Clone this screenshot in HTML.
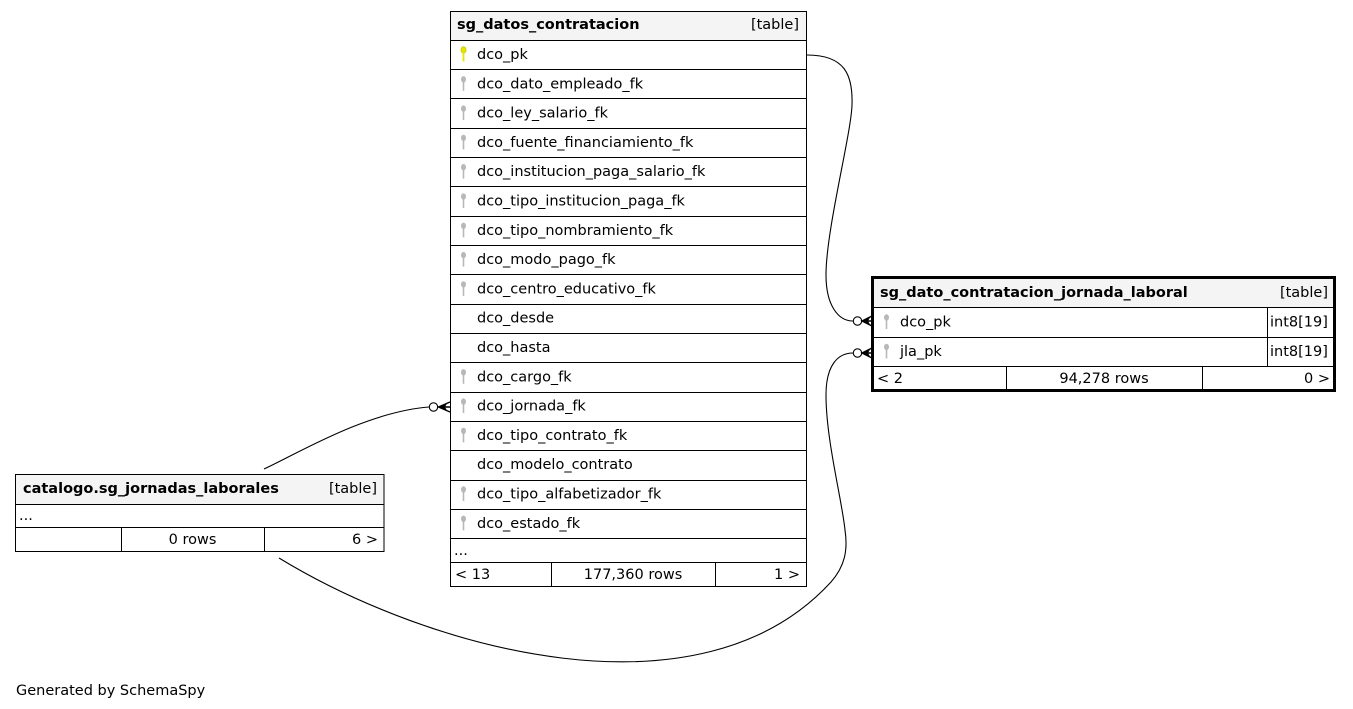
<!DOCTYPE html>
<html>
<head>
<meta charset="utf-8">
<style>
  html,body{margin:0;padding:0;background:#fff;}
  svg{display:block;}
  text{font-family:"DejaVu Sans","Liberation Sans",sans-serif;font-size:14.5px;fill:#000;}
  .b{font-weight:bold;}
</style>
</head>
<body>
<svg width="1353" height="709" viewBox="0 0 1353 709" xmlns="http://www.w3.org/2000/svg">
  <defs>
    <g id="kg">
      <ellipse cx="0" cy="0" rx="2.5" ry="3.2" fill="#b8b8b8"/>
      <rect x="-0.8" y="2" width="1.6" height="9.5" fill="#b8b8b8"/>
    </g>
    <g id="ky">
      <ellipse cx="0" cy="0" rx="2.6" ry="3.3" fill="#e6e600" stroke="#b8b800" stroke-width="0.6"/>
      <rect x="-0.9" y="2" width="1.8" height="9.5" fill="#e6e600"/>
    </g>
  </defs>

  <!-- ========== main table sg_datos_contratacion ========== -->
  <rect x="450.5" y="11.5" width="356" height="29" fill="#f4f4f4"/>
  <rect x="450.5" y="11.5" width="356" height="575" fill="none" stroke="#000" stroke-width="1"/>
  <g stroke="#000" stroke-width="1">
    <line x1="450" y1="40.5" x2="807" y2="40.5"/>
    <line x1="450" y1="69.5" x2="807" y2="69.5"/>
    <line x1="450" y1="98.5" x2="807" y2="98.5"/>
    <line x1="450" y1="128.5" x2="807" y2="128.5"/>
    <line x1="450" y1="157.5" x2="807" y2="157.5"/>
    <line x1="450" y1="186.5" x2="807" y2="186.5"/>
    <line x1="450" y1="216.5" x2="807" y2="216.5"/>
    <line x1="450" y1="245.5" x2="807" y2="245.5"/>
    <line x1="450" y1="274.5" x2="807" y2="274.5"/>
    <line x1="450" y1="304.5" x2="807" y2="304.5"/>
    <line x1="450" y1="333.5" x2="807" y2="333.5"/>
    <line x1="450" y1="362.5" x2="807" y2="362.5"/>
    <line x1="450" y1="392.5" x2="807" y2="392.5"/>
    <line x1="450" y1="421.5" x2="807" y2="421.5"/>
    <line x1="450" y1="450.5" x2="807" y2="450.5"/>
    <line x1="450" y1="480.5" x2="807" y2="480.5"/>
    <line x1="450" y1="509.5" x2="807" y2="509.5"/>
    <line x1="450" y1="538.5" x2="807" y2="538.5"/>
    <line x1="450" y1="562.5" x2="807" y2="562.5"/>
    <line x1="551.5" y1="563" x2="551.5" y2="586"/>
    <line x1="715.5" y1="563" x2="715.5" y2="586"/>
  </g>
  <text x="457" y="29" class="b">sg_datos_contratacion</text>
  <text x="799" y="29" text-anchor="end">[table]</text>

  <use href="#ky" x="463.5" y="50"/>
  <use href="#kg" x="463.5" y="79.3"/>
  <use href="#kg" x="463.5" y="108.6"/>
  <use href="#kg" x="463.5" y="137.9"/>
  <use href="#kg" x="463.5" y="167.2"/>
  <use href="#kg" x="463.5" y="196.5"/>
  <use href="#kg" x="463.5" y="225.8"/>
  <use href="#kg" x="463.5" y="255.1"/>
  <use href="#kg" x="463.5" y="284.4"/>
  <use href="#kg" x="463.5" y="372.3"/>
  <use href="#kg" x="463.5" y="401.6"/>
  <use href="#kg" x="463.5" y="430.9"/>
  <use href="#kg" x="463.5" y="489.5"/>
  <use href="#kg" x="463.5" y="518.8"/>

  <text x="477" y="59">dco_pk</text>
  <text x="477" y="88.3">dco_dato_empleado_fk</text>
  <text x="477" y="117.6">dco_ley_salario_fk</text>
  <text x="477" y="146.9">dco_fuente_financiamiento_fk</text>
  <text x="477" y="176.2">dco_institucion_paga_salario_fk</text>
  <text x="477" y="205.5">dco_tipo_institucion_paga_fk</text>
  <text x="477" y="234.8">dco_tipo_nombramiento_fk</text>
  <text x="477" y="264.1">dco_modo_pago_fk</text>
  <text x="477" y="293.4">dco_centro_educativo_fk</text>
  <text x="477" y="322.7">dco_desde</text>
  <text x="477" y="352">dco_hasta</text>
  <text x="477" y="381.3">dco_cargo_fk</text>
  <text x="477" y="410.6">dco_jornada_fk</text>
  <text x="477" y="439.9">dco_tipo_contrato_fk</text>
  <text x="477" y="469.2">dco_modelo_contrato</text>
  <text x="477" y="498.5">dco_tipo_alfabetizador_fk</text>
  <text x="477" y="527.8">dco_estado_fk</text>
  <text x="454" y="555">...</text>
  <text x="455" y="579">&lt; 13</text>
  <text x="633" y="579" text-anchor="middle">177,360 rows</text>
  <text x="800" y="579" text-anchor="end">1 &gt;</text>

  <!-- ========== right table sg_dato_contratacion_jornada_laboral ========== -->
  <rect x="872.5" y="277.5" width="462" height="30" fill="#f4f4f4"/>
  <g stroke="#000" stroke-width="1">
    <line x1="872" y1="307.5" x2="1335" y2="307.5"/>
    <line x1="872" y1="337.5" x2="1335" y2="337.5"/>
    <line x1="872" y1="366.5" x2="1335" y2="366.5"/>
    <line x1="1267.5" y1="308" x2="1267.5" y2="366"/>
    <line x1="1006.5" y1="367" x2="1006.5" y2="390"/>
    <line x1="1202.5" y1="367" x2="1202.5" y2="390"/>
  </g>
  <rect x="872.5" y="277.5" width="462" height="113" fill="none" stroke="#000" stroke-width="3"/>
  <text x="880" y="297" class="b">sg_dato_contratacion_jornada_laboral</text>
  <text x="1328" y="297" text-anchor="end">[table]</text>
  <use href="#kg" x="886.5" y="317.5"/>
  <use href="#kg" x="886.5" y="347"/>
  <text x="900" y="326.5">dco_pk</text>
  <text x="900" y="356">jla_pk</text>
  <text x="1270" y="326.5">int8[19]</text>
  <text x="1270" y="356">int8[19]</text>
  <text x="877" y="383">&lt; 2</text>
  <text x="1104" y="383" text-anchor="middle">94,278 rows</text>
  <text x="1330" y="383" text-anchor="end">0 &gt;</text>

  <!-- ========== left table catalogo.sg_jornadas_laborales ========== -->
  <rect x="15.5" y="474.5" width="368.5" height="29.5" fill="#f4f4f4"/>
  <rect x="15.5" y="474.5" width="368.5" height="77" fill="none" stroke="#000" stroke-width="1"/>
  <g stroke="#000" stroke-width="1">
    <line x1="15" y1="504.5" x2="384" y2="504.5"/>
    <line x1="15" y1="527.5" x2="384" y2="527.5"/>
    <line x1="121.5" y1="528" x2="121.5" y2="551"/>
    <line x1="264.5" y1="528" x2="264.5" y2="551"/>
  </g>
  <text x="23" y="493" class="b">catalogo.sg_jornadas_laborales</text>
  <text x="377" y="493" text-anchor="end">[table]</text>
  <text x="19" y="520">...</text>
  <text x="192.5" y="544" text-anchor="middle">0 rows</text>
  <text x="378" y="544" text-anchor="end">6 &gt;</text>

  <!-- ========== edges ========== -->
  <g fill="none" stroke="#000" stroke-width="1.1">
    <path d="M807,55 C845,55 853,75 852,105 C851,135 826,230 826,275 C826,305 838,321 853,321"/>
    <path d="M279,558 C430,650 700,725 831,582 C845,566 848,550 845,530 C842,500 826,440 826,395 C826,365 838,353 853,353"/>
    <path d="M264,469 C295,455 365,412 429,407"/>
  </g>
  <!-- endpoint markers: odot + crow -->
  <g stroke="#000" stroke-width="1.1">
    <circle cx="857.5" cy="321" r="4.2" fill="#fff"/>
    <path d="M872,316 L862,321 L872,326 M862,321 L872,321" fill="none" stroke-width="1.4"/>
    <polygon points="862,321 870,317.5 868,321 870,324.5" fill="#000" stroke="none"/>
    <circle cx="857.5" cy="353" r="4.2" fill="#fff"/>
    <path d="M872,348 L862,353 L872,358 M862,353 L872,353" fill="none" stroke-width="1.4"/>
    <polygon points="862,353 870,349.5 868,353 870,356.5" fill="#000" stroke="none"/>
    <circle cx="433.5" cy="407" r="4.2" fill="#fff"/>
    <path d="M450,402 L438.5,407 L450,412 M438.5,407 L450,407" fill="none" stroke-width="1.4"/>
    <polygon points="438.5,407 447,403.5 445,407 447,410.5" fill="#000" stroke="none"/>
  </g>

  <text x="16" y="695">Generated by SchemaSpy</text>
</svg>
</body>
</html>
